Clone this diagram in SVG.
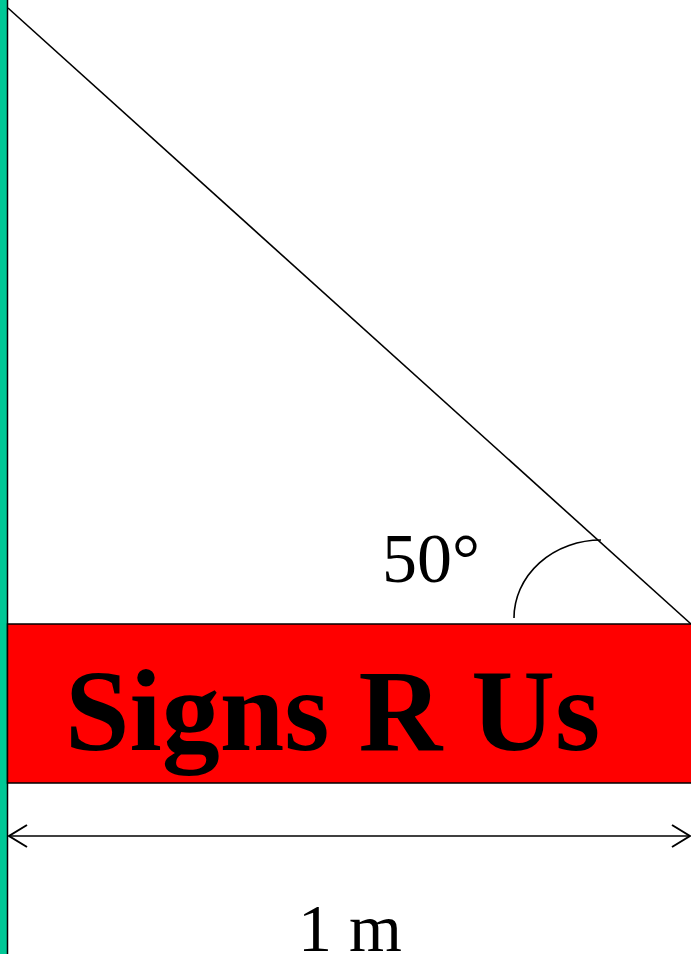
<svg xmlns="http://www.w3.org/2000/svg" width="691" height="954" viewBox="0 0 691 954">
<style>
.ln{stroke:#000;stroke-width:1.6;fill:none}
.t{font-family:"Liberation Serif","Times New Roman",serif;fill:#000}
</style>
<defs>
<marker id="ah" markerWidth="24" markerHeight="26" refX="20" refY="12" orient="auto-start-reverse" markerUnits="userSpaceOnUse">
<path d="M2,1 L20,12 L2,23" fill="none" stroke="#000" stroke-width="2"/>
</marker>
</defs>
<rect width="691" height="954" fill="#fff"/>
<g id="pole"><rect x="-1" y="-1" width="8.5" height="956" fill="#00c896" stroke="#000" stroke-width="1.5"/></g>
<g id="sign">
<rect x="7.5" y="624" width="690" height="159" fill="#f00" stroke="#000" stroke-width="1.5"/>
<text class="t" x="65" y="750" font-size="116" font-weight="bold">Signs R Us</text>
</g>
<g id="connectors">
<line class="ln" x1="8" y1="8" x2="691" y2="624"/>
<path class="ln" d="M514,618 A87,78 0 0 1 601,540"/>
<line class="ln" x1="9" y1="836" x2="690" y2="836" stroke-width="2" marker-start="url(#ah)" marker-end="url(#ah)"/>
</g>
<g id="angle-label"><text class="t" x="382" y="582" font-size="70">50°</text></g>
<g id="width-label"><text class="t" x="298" y="951" font-size="68">1 m</text></g>
</svg>
